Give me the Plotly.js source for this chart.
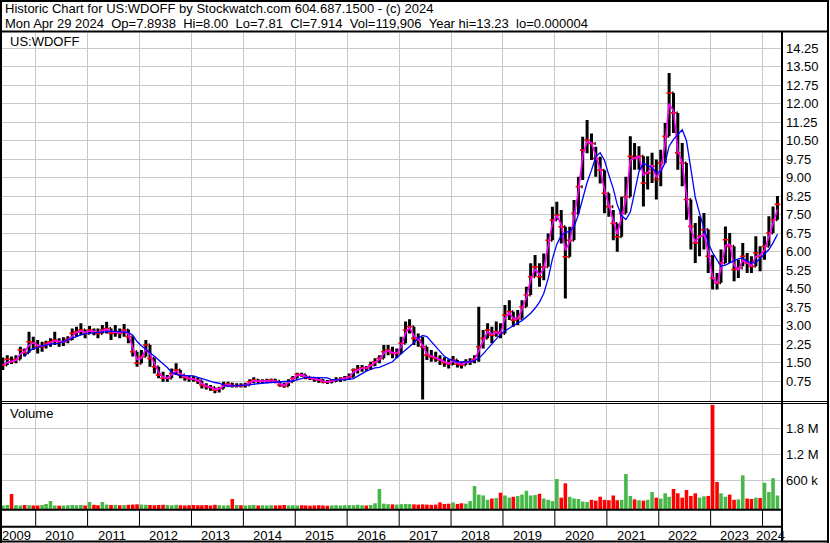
<!DOCTYPE html>
<html><head><meta charset="utf-8">
<script src="https://cdn.plot.ly/plotly-3.0.1.min.js"></script>
<style>html,body{margin:0;padding:0;background:#fff;overflow:hidden}#chart{width:830px;height:543px}</style>
</head><body><div id="chart"></div>
<script>
// ---------- DATA (monthly, May 2009 .. Apr 2024) ----------
const firstYear = 2009, firstMonthIndex = 4; // May
const firstOpen = 1.30;
const high = [
 1.70,1.80,1.74,1.80,2.14,2.07,2.75,2.55,
 2.41,2.34,2.38,2.48,2.75,2.48,2.52,2.57,2.88,2.95,3.09,2.84,
 2.98,2.88,2.88,3.02,3.15,2.88,3.02,2.88,3.06,2.84,2.55,1.94,
 2.01,2.41,2.21,1.67,1.33,1.13,0.99,1.26,1.47,1.20,0.99,0.95,
 0.95,0.90,0.76,0.66,0.59,0.49,0.52,0.72,0.72,0.68,0.66,0.66,
 0.68,0.82,0.90,0.82,0.82,0.84,0.84,0.82,0.74,0.68,0.82,0.95,
 1.09,1.09,1.00,0.92,0.90,0.90,0.82,0.79,0.82,0.90,0.90,0.95,
 1.06,1.26,1.40,1.40,1.36,1.53,1.67,1.80,2.21,2.21,2.14,2.07,
 2.55,3.16,3.25,2.95,2.68,2.55,2.14,2.01,1.94,1.80,1.71,1.63,
 1.76,1.60,1.53,1.63,1.67,1.80,3.76,2.82,3.09,2.95,3.16,3.09,
 3.83,4.03,3.56,3.63,4.03,4.57,5.52,5.86,5.52,5.92,6.73,7.82,
 8.02,7.68,7.00,7.00,8.09,9.03,10.65,11.33,10.79,10.25,9.84,9.30,
 8.36,7.68,7.14,8.22,9.03,10.67,10.40,10.27,9.86,9.86,10.00,9.73,
 10.13,11.21,13.24,12.43,11.62,10.40,9.59,8.11,7.16,7.43,7.56,6.89,
 5.85,5.13,6.08,7.02,6.75,6.21,5.67,6.35,5.94,5.81,6.62,6.21,
 6.62,7.43,7.83,8.25
];
const low = [
 1.20,1.40,1.44,1.47,1.63,1.74,1.90,2.01,
 1.87,1.94,2.07,2.14,2.21,2.14,2.17,2.28,2.41,2.55,2.61,2.48,
 2.68,2.61,2.48,2.68,2.68,2.41,2.55,2.48,2.55,2.28,1.74,1.33,
 1.47,1.74,1.33,1.06,0.86,0.72,0.72,0.86,0.99,0.86,0.76,0.72,
 0.72,0.63,0.45,0.41,0.36,0.25,0.28,0.45,0.52,0.49,0.49,0.49,
 0.49,0.59,0.66,0.66,0.66,0.66,0.68,0.66,0.52,0.48,0.55,0.72,
 0.86,0.92,0.82,0.79,0.72,0.68,0.66,0.63,0.66,0.71,0.71,0.76,
 0.79,0.92,1.06,1.13,1.17,1.22,1.36,1.47,1.67,1.80,1.67,1.67,
 1.87,2.28,2.68,2.21,2.14,0.00,1.60,1.53,1.53,1.40,1.33,1.26,
 1.40,1.30,1.26,1.40,1.40,1.47,1.53,2.07,2.48,2.28,2.55,2.48,
 2.68,3.22,2.95,3.02,3.29,3.76,4.24,4.98,4.57,4.84,5.38,6.46,
 7.28,6.33,4.10,5.79,6.46,7.55,8.90,9.98,9.71,9.03,8.76,7.55,
 7.41,6.46,5.99,6.60,7.55,8.22,9.32,9.32,7.83,8.51,8.78,8.11,
 8.65,9.59,10.67,10.81,9.32,8.65,7.29,6.08,5.54,5.81,6.08,5.13,
 4.46,4.46,4.73,5.54,5.54,4.80,4.93,5.40,5.13,5.13,5.40,5.20,
 5.67,6.21,6.75,7.29
];
const close = [
 1.40,1.63,1.53,1.63,2.01,1.90,2.34,2.28,
 2.14,2.14,2.28,2.34,2.41,2.34,2.34,2.44,2.68,2.75,2.82,2.68,
 2.82,2.75,2.68,2.82,2.88,2.68,2.75,2.68,2.82,2.55,1.94,1.47,
 1.74,2.21,1.67,1.33,0.99,0.86,0.86,1.06,1.20,0.99,0.90,0.84,
 0.82,0.76,0.59,0.52,0.49,0.38,0.45,0.59,0.63,0.55,0.57,0.55,
 0.59,0.72,0.79,0.74,0.76,0.76,0.79,0.74,0.59,0.55,0.72,0.86,
 1.02,1.00,0.90,0.86,0.82,0.79,0.72,0.71,0.75,0.79,0.82,0.86,
 0.92,1.20,1.22,1.29,1.28,1.40,1.53,1.67,1.94,2.01,1.87,1.87,
 2.28,2.82,2.95,2.48,2.41,2.14,1.80,1.74,1.67,1.60,1.49,1.44,
 1.60,1.44,1.40,1.53,1.53,1.63,2.14,2.48,2.82,2.61,2.75,2.68,
 3.42,3.56,3.22,3.29,3.76,4.24,4.98,5.38,4.98,5.38,6.46,7.28,
 7.48,7.00,5.79,6.46,7.55,8.63,10.11,10.52,10.38,9.77,9.30,8.36,
 7.82,7.14,6.60,7.55,8.22,9.86,9.79,9.86,8.78,9.19,9.46,8.92,
 9.59,10.67,12.43,11.62,10.00,9.59,8.11,7.02,6.35,6.62,6.89,5.81,
 4.93,4.73,5.54,6.48,6.21,5.27,5.33,5.81,5.54,5.40,5.94,5.81,
 6.21,6.75,7.29,7.91
];
const maFast = [
 1.40,1.50,1.55,1.58,1.85,1.95,2.20,2.30,
 2.20,2.15,2.22,2.30,2.38,2.36,2.34,2.40,2.58,2.72,2.78,2.72,
 2.78,2.77,2.72,2.78,2.85,2.75,2.72,2.70,2.78,2.65,2.10,1.62,
 1.68,2.05,1.85,1.45,1.10,0.92,0.86,1.00,1.15,1.05,0.92,0.86,
 0.83,0.78,0.65,0.55,0.50,0.42,0.43,0.55,0.61,0.57,0.56,0.56,
 0.58,0.68,0.76,0.75,0.75,0.76,0.78,0.75,0.64,0.57,0.68,0.82,
 0.98,1.00,0.93,0.87,0.83,0.80,0.74,0.71,0.74,0.78,0.81,0.85,
 0.90,1.12,1.20,1.27,1.28,1.37,1.50,1.63,1.88,1.98,1.90,1.87,
 2.15,2.70,2.92,2.58,2.44,2.20,1.87,1.76,1.69,1.62,1.52,1.46,
 1.56,1.47,1.42,1.50,1.53,1.61,2.00,2.40,2.75,2.65,2.72,2.70,
 3.30,3.52,3.28,3.28,3.65,4.15,4.85,5.30,5.05,5.30,6.25,7.15,
 7.45,7.10,6.05,6.40,7.40,8.45,9.90,10.45,10.40,9.85,9.35,8.50,
 7.90,7.20,6.70,7.40,8.10,9.70,9.80,9.85,9.10,9.20,9.50,9.00,
 9.30,10.40,12.00,11.70,10.10,9.60,8.30,6.90,6.40,6.60,6.70,6.00,
 4.95,4.70,5.30,6.25,6.30,5.45,5.25,5.65,5.55,5.42,5.80,5.85,
 6.05,6.60,7.15,7.70
];
const maSlow = [
 null,null,null,null,null,1.75,1.95,2.07,
 2.10,2.18,2.22,2.25,2.27,2.28,2.35,2.42,2.50,2.55,2.62,2.67,
 2.69,2.71,2.72,2.74,2.75,2.76,2.76,2.75,2.75,2.72,2.61,2.35,
 2.18,2.05,1.90,1.75,1.60,1.43,1.30,1.10,1.02,0.98,0.98,0.98,
 0.96,0.90,0.85,0.79,0.74,0.69,0.66,0.58,0.52,0.55,0.56,0.56,
 0.56,0.59,0.62,0.65,0.67,0.68,0.69,0.71,0.72,0.73,0.74,0.75,
 0.80,0.88,0.90,0.90,0.90,0.90,0.90,0.88,0.80,0.79,0.80,0.81,
 0.82,0.85,0.95,1.06,1.15,1.22,1.28,1.30,1.38,1.45,1.53,1.70,
 1.85,2.00,2.14,2.30,2.48,2.60,2.55,2.35,2.12,1.92,1.75,1.65,
 1.58,1.53,1.53,1.53,1.53,1.58,1.67,1.85,2.05,2.25,2.45,2.65,
 2.78,2.90,3.00,3.10,3.20,3.35,3.50,3.70,3.95,4.30,4.90,5.70,
 6.30,6.65,6.78,6.82,7.00,7.50,8.15,8.80,9.30,9.85,10.00,9.70,
 9.10,8.55,7.90,7.45,7.30,7.60,8.40,9.25,9.58,9.50,9.40,9.20,
 9.25,9.60,10.27,10.55,10.75,10.94,10.50,9.40,8.20,7.55,6.95,6.35,
 5.95,5.65,5.40,5.45,5.55,5.63,5.70,5.74,5.60,5.54,5.55,5.72,
 5.90,6.08,6.35,6.70
];
const volumeK = [
 20,30,284,25,20,30,25,20,
 20,30,53,122,20,15,20,25,30,25,30,20,
 99,35,25,99,40,30,35,25,30,35,40,46,
 40,35,30,25,30,35,30,25,35,25,20,25,
 30,25,25,30,20,35,25,20,25,168,30,25,
 20,25,30,20,25,20,25,20,25,30,20,25,
 20,25,20,15,20,25,20,15,20,25,20,25,
 30,25,35,25,20,30,70,400,60,50,45,40,
 50,55,50,45,40,45,40,35,40,90,55,60,
 90,55,70,60,122,468,270,252,150,180,190,314,
 250,200,220,240,270,360,250,260,290,180,150,120,
 630,200,530,220,180,170,110,100,150,130,222,150,
 140,250,140,150,745,240,160,140,130,150,330,200,
 180,300,220,400,300,200,376,240,300,200,230,240,
 2340,560,300,220,270,150,160,715,180,170,200,190,
 545,330,650,250
];
const yearLabels = ['2009','2010','2011','2012','2013','2014','2015','2016','2017','2018','2019','2020','2021','2022','2023','2024'];
const priceTicks = [0.75,1.5,2.25,3,3.75,4.5,5.25,6,6.75,7.5,8.25,9,9.75,10.5,11.25,12,12.75,13.5,14.25];
const volumeTicks = [600,1200,1800];
const volumeTickText = ['600 k','1.2 M','1.8 M'];
const headerLine1 = 'Historic Chart for US:WDOFF by Stockwatch.com 604.687.1500 - (c) 2024';
const headerLine2 = 'Mon Apr 29 2024\u00a0\u00a0Op=7.8938\u00a0\u00a0Hi=8.00\u00a0\u00a0Lo=7.81\u00a0\u00a0Cl=7.914\u00a0\u00a0Vol=119,906\u00a0\u00a0Year hi=13.23\u00a0\u00a0lo=0.000004';
const symbolLabel = 'US:WDOFF';
const volumeLabel = 'Volume';

// ---------- BUILD ----------
const n = close.length;
const dates = [];
for (let i = 0; i < n; i++) {
  const mi = firstMonthIndex + i;
  const y = firstYear + Math.floor(mi / 12);
  const m = (mi % 12) + 1;
  dates.push(y + '-' + String(m).padStart(2, '0') + '-15');
}
const open = close.map((c, i) => i === 0 ? firstOpen : close[i - 1]);
const volColors = close.map((c, i) => c >= open[i] ? '#47b847' : '#ff0000');

// volume panel bottom sits a little below the zero level (as in the original renderer)
const volBottom = -62;

const W = 830, H = 543, L = 2, R = 49, T = 33, B = 34;
const plotW = W - L - R, plotH = H - T - B;
const px = x => (x - L) / plotW;
const py = y => (H - B - y) / plotH;
const FONT = 'Arial, "Liberation Sans", sans-serif';

const traces = [
  { type: 'ohlc', x: dates, open: open, high: high, low: low, close: close,
    xaxis: 'x', yaxis: 'y', tickwidth: 0.35, hoverinfo: 'skip',
    increasing: { line: { color: '#000000', width: 3 } },
    decreasing: { line: { color: '#000000', width: 3 } } },
  { type: 'scatter', mode: 'markers', x: dates, y: close, xaxis: 'x', yaxis: 'y', hoverinfo: 'skip',
    marker: { symbol: 'line-ew', size: 4, line: { color: '#ff0000', width: 1.6 } } },
  { type: 'scatter', mode: 'lines', x: dates, y: maFast, xaxis: 'x', yaxis: 'y', hoverinfo: 'skip',
    line: { color: '#ff00ff', width: 1.6 } },
  { type: 'scatter', mode: 'lines', x: dates, y: maSlow, xaxis: 'x', yaxis: 'y', hoverinfo: 'skip',
    line: { color: '#0000ff', width: 1.3 } },
  { type: 'bar', x: dates, y: volumeK.map(v => v - volBottom), base: volBottom, xaxis: 'x', yaxis: 'y2', hoverinfo: 'skip',
    marker: { color: volColors, line: { width: 0 } } }
];

const gridTicks = yearLabels.slice(1).map(y => y + '-01-01');
const shapes = [];
const blk = (x0, y0, x1, y1, w) => shapes.push({ type: 'line', xref: 'paper', yref: 'paper',
  x0: px(x0), y0: py(y0), x1: px(x1), y1: py(y1), line: { color: '#000', width: w }, layer: 'above' });
blk(0, 1, 829, 1, 2);          // top border
blk(1, 0, 1, 543, 2);          // left border
blk(828, 0, 828, 543, 2);      // right border
blk(0, 541.5, 829, 541.5, 2);  // bottom border
blk(0, 31.5, 829, 31.5, 2);    // header separator
blk(0, 401.5, 829, 401.5, 1);  // price bottom
blk(0, 403.5, 829, 403.5, 1);  // volume top
blk(0, 509.8, 782, 509.8, 2);  // volume bottom
blk(0, 526.8, 782, 526.8, 2);  // tick row bottom
blk(782, 31, 782, 542, 2);     // right axis line
gridTicks.forEach(d => shapes.push({ type: 'line', xref: 'x', yref: 'paper', x0: d, x1: d,
  y0: py(510), y1: py(527), line: { color: '#000', width: 1 }, layer: 'above' }));

const annotations = [
  { text: headerLine1, xref: 'paper', yref: 'paper', x: px(3), y: py(9), xanchor: 'left', yanchor: 'middle', showarrow: false, font: { family: FONT, size: 13, color: '#000' } },
  { text: headerLine2, xref: 'paper', yref: 'paper', x: px(3), y: py(23), xanchor: 'left', yanchor: 'middle', showarrow: false, font: { family: FONT, size: 13, color: '#000' } },
  { text: symbolLabel, xref: 'paper', yref: 'paper', x: px(8), y: py(41), xanchor: 'left', yanchor: 'middle', showarrow: false, font: { family: FONT, size: 13, color: '#000' } },
  { text: volumeLabel, xref: 'paper', yref: 'paper', x: px(8), y: py(413), xanchor: 'left', yanchor: 'middle', showarrow: false, font: { family: FONT, size: 13, color: '#000' } }
];
const labelDates = yearLabels.map((y, i) => i === 0 ? y + '-08-19' : (i === yearLabels.length - 1 ? y + '-02-26' : y + '-06-20'));
yearLabels.forEach((y, i) => annotations.push({ text: y, xref: 'x', yref: 'paper', x: labelDates[i], y: py(535),
  xanchor: 'center', yanchor: 'middle', showarrow: false, font: { family: FONT, size: 13, color: '#000' } }));

const axFont = { family: FONT, size: 13, color: '#000' };
const layout = {
  width: W, height: H, margin: { l: L, r: R, t: T, b: B, pad: 0 },
  paper_bgcolor: '#fff', plot_bgcolor: '#fff', showlegend: false, bargap: 0.1,
  font: { family: FONT, size: 13, color: '#000' },
  xaxis: { type: 'date', range: ['2009-05-09', '2024-05-10'], anchor: 'y2', tickmode: 'array', tickvals: gridTicks,
    showticklabels: false, ticks: '', showgrid: true, gridcolor: '#c8c8c8', gridwidth: 1, zeroline: false, showline: false,
    rangeslider: { visible: false }, fixedrange: true },
  yaxis: { domain: [py(401.5), 1], range: [-0.08, 14.86], side: 'right', anchor: 'x', tickmode: 'array',
    tickvals: priceTicks, ticktext: priceTicks.map(v => v.toFixed(2)), ticks: '', ticklabelstandoff: 4,
    showgrid: true, gridcolor: '#c8c8c8', gridwidth: 1, zeroline: false, showline: false, tickfont: axFont, fixedrange: true },
  yaxis2: { domain: [0, py(404)], range: [volBottom, 2361], side: 'right', anchor: 'x', tickmode: 'array',
    tickvals: volumeTicks, ticktext: volumeTickText, ticks: '', ticklabelstandoff: 4,
    showgrid: true, gridcolor: '#c8c8c8', gridwidth: 1, zeroline: false, showline: false, tickfont: axFont, fixedrange: true },
  shapes: shapes, annotations: annotations
};
Plotly.newPlot('chart', traces, layout, { staticPlot: true, displayModeBar: false });
</script></body></html>
